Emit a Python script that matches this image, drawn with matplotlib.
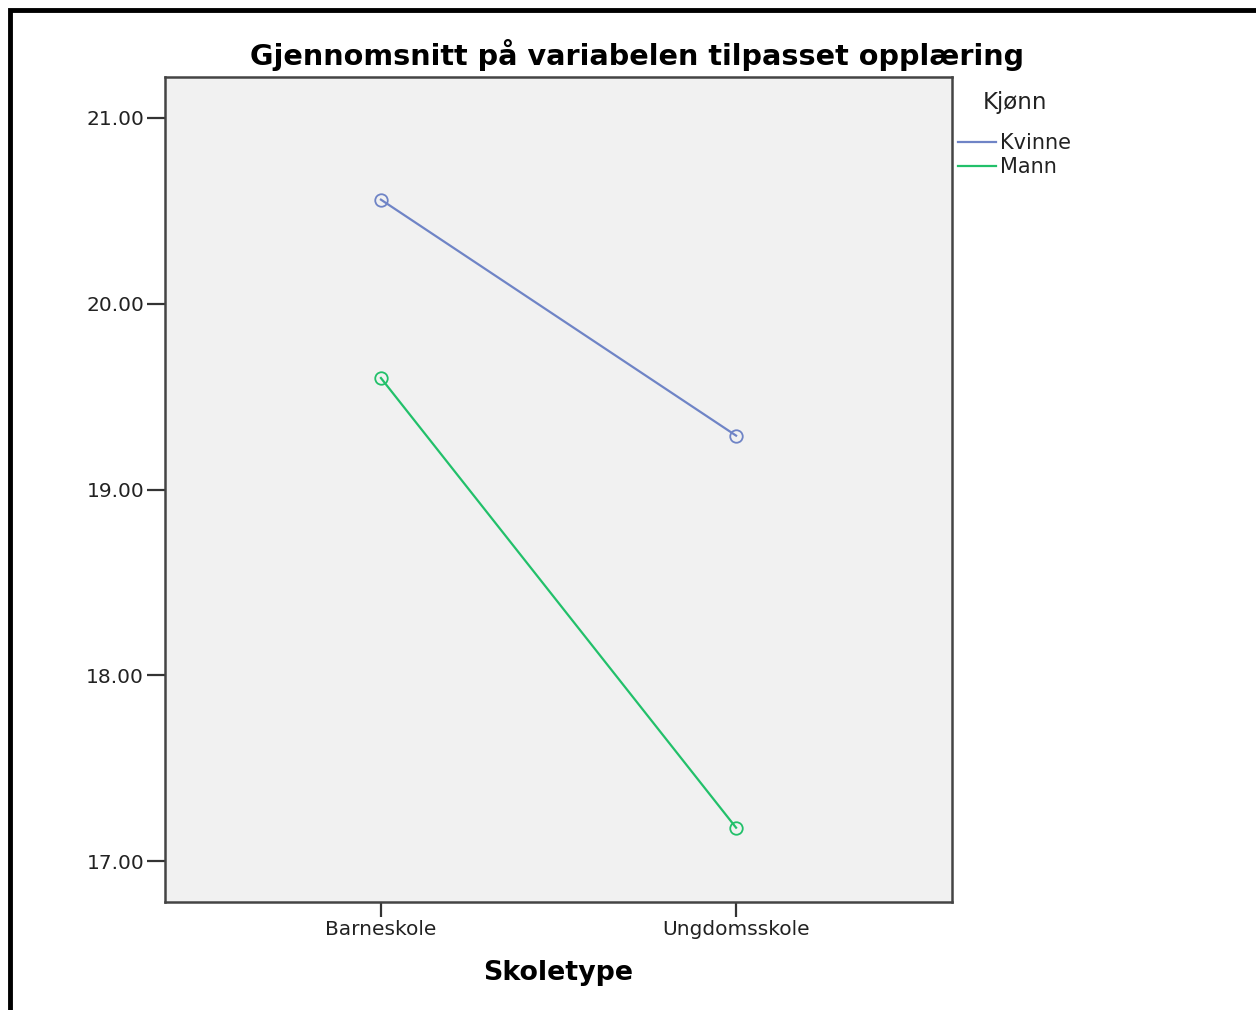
import matplotlib
matplotlib.use("Agg")
import matplotlib.pyplot as plt
from matplotlib.patches import Rectangle
from matplotlib.lines import Line2D

# data
skoletyper = ["Barneskole", "Ungdomsskole"]
kvinne = [20.56, 19.29]
mann = [19.60, 17.18]
y_ticks = [17.0, 18.0, 19.0, 20.0, 21.0]

farge_kvinne = "#6f84c6"
farge_mann = "#22c06a"

W, H = 1256, 1010
fig = plt.figure(figsize=(W / 100, H / 100), dpi=100)
fig.patch.set_facecolor("white")

# black frame around the whole picture
fig.patches.append(Rectangle((10 / W, -0.05), 1.1, 1 - 10 / H + 0.05,
                             transform=fig.transFigure, fill=False,
                             edgecolor="black", linewidth=3.5))

ax = fig.add_axes([165 / W, 1 - 902 / H, (952 - 165) / W, (902 - 77) / H])
ax.set_facecolor("#f1f1f1")

x = list(range(len(skoletyper)))
ax.plot(x, kvinne, color=farge_kvinne, linewidth=1.6, marker="o", markersize=9,
        markerfacecolor="none", markeredgewidth=1.3)
ax.plot(x, mann, color=farge_mann, linewidth=1.6, marker="o", markersize=9,
        markerfacecolor="none", markeredgewidth=1.3)

ax.set_xlim(-0.608, 1.608)
ax.set_ylim(16.78, 21.22)
ax.set_xticks(x)
ax.set_xticklabels(skoletyper)
ax.set_yticks(y_ticks)
ax.set_yticklabels(["%.2f" % v for v in y_ticks])

for s in ax.spines.values():
    s.set_color("#444444")
    s.set_linewidth(1.8)

ax.tick_params(axis="y", length=13, width=1.6, color="#333333", labelsize=14.5,
               labelcolor="#222222", pad=2)
ax.tick_params(axis="x", length=11, width=1.6, color="#333333", labelsize=14.5,
               labelcolor="#222222", pad=2)

fig.text(637 / W, 1 - 55 / H, "Gjennomsnitt på variabelen tilpasset opplæring",
         ha="center", va="center", fontsize=20.6, fontweight="bold")
fig.text(558 / W, 1 - 973 / H, "Skoletype", ha="center", va="center",
         fontsize=19.4, fontweight="bold")

# legend
fig.text(983 / W, 1 - 102 / H, "Kjønn", ha="left", va="center", fontsize=16.5,
         color="#222222")
for yy, navn, farge in [(142, "Kvinne", farge_kvinne), (166, "Mann", farge_mann)]:
    fig.lines.append(Line2D([958 / W, 996 / W], [1 - yy / H, 1 - yy / H],
                            transform=fig.transFigure, color=farge, linewidth=1.6))
    fig.text(1000 / W, 1 - (yy + 1) / H, navn, ha="left", va="center",
             fontsize=15, color="#222222")

fig.savefig("out.png", dpi=100)
